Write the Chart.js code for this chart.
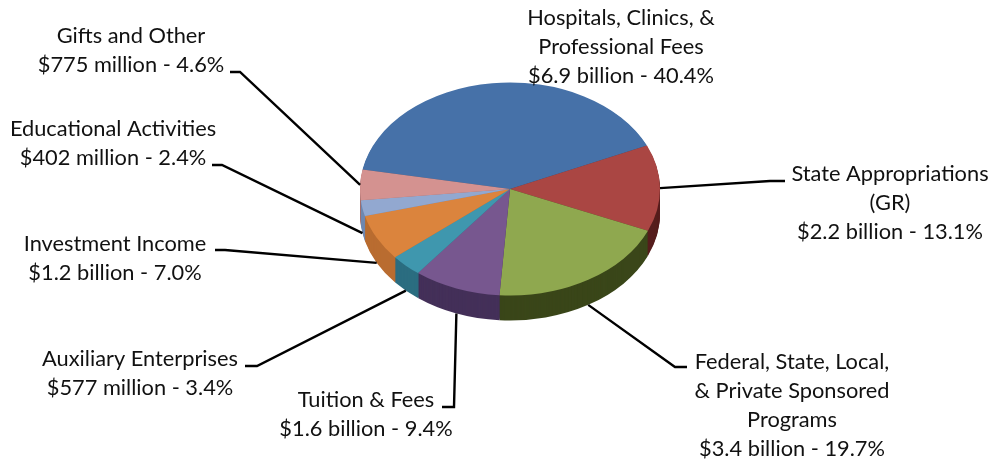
<!DOCTYPE html>
<html>
<head>
<meta charset="utf-8">
<title>Revenue sources</title>
<script src="https://cdn.jsdelivr.net/npm/chart.js@4/dist/chart.umd.min.js"></script>
<style>
    html, body { margin: 0; padding: 0; background: #fff; }
    canvas { display: block; }
</style>
</head>
<body>
<canvas id="revenueChart" width="995" height="462"></canvas>
<script>
// Data, clockwise from the big blue slice
const categoryLines = [
    ['Hospitals, Clinics, &', 'Professional Fees'],
    ['State Appropriations', '(GR)'],
    ['Federal, State, Local,', '& Private Sponsored', 'Programs'],
    ['Tuition & Fees'],
    ['Auxiliary Enterprises'],
    ['Investment Income'],
    ['Educational Activities'],
    ['Gifts and Other']
];
const amounts = ['$6.9 billion', '$2.2 billion', '$3.4 billion', '$1.6 billion', '$577 million', '$1.2 billion', '$402 million', '$775 million'];
const shares = [40.4, 13.1, 19.7, 9.4, 3.4, 7.0, 2.4, 4.6];

const topColors = ['#4671a8', '#aa4643', '#8fa84f', '#77578f', '#3f97ae', '#db843d', '#92a8d0', '#d49290'];
const sideColors = ['#2d4a70', '#561e1d', '#3a4619', '#443059', '#2b6d80', '#b96c30', '#7088b0', '#a56f6d'];

// Perspective of the disc
const squash = 0.71;
const depth = 25;

// Where each label goes: centre x, first baseline, leader elbow (null = no leader)
const labelSpots = [
    { x: 621, y: 25, elbow: null },
    { x: 890, y: 181, elbow: [[785, 181], [770, 181]] },
    { x: 792, y: 369, elbow: [[687, 367], [675, 367]] },
    { x: 366, y: 407, elbow: [[442, 407], [454, 407]] },
    { x: 140, y: 366, elbow: [[245, 366], [257, 366]] },
    { x: 115, y: 251, elbow: [[215, 250], [225, 250]] },
    { x: 113, y: 136, elbow: [[212, 165], [222, 165]] },
    { x: 131, y: 43, elbow: [[230, 72], [240, 72]] }
];

const tiltPlugin = {
    id: 'tilt',
    beforeDatasetsDraw(chart) {
        const ctx = chart.ctx;
        const arcs = chart.getDatasetMeta(0).data;
        const cy = arcs[0].y;
        // side wall: stack of darker discs below the top face
        for (let d = depth; d > 0; d--) {
            arcs.forEach(function(arc, i) {
                ctx.save();
                ctx.translate(arc.x, cy + d);
                ctx.scale(1, squash);
                ctx.beginPath();
                ctx.moveTo(0, 0);
                ctx.arc(0, 0, arc.outerRadius, arc.startAngle, arc.endAngle);
                ctx.closePath();
                ctx.fillStyle = sideColors[i];
                ctx.fill();
                ctx.restore();
            });
        }
        ctx.save();
        ctx.translate(0, cy);
        ctx.scale(1, squash);
        ctx.translate(0, -cy);
    },
    afterDatasetsDraw(chart) {
        chart.ctx.restore();
    },
    afterDraw(chart) {
        const ctx = chart.ctx;
        const arcs = chart.getDatasetMeta(0).data;

        // leaders run from the elbow to the rim at the middle of the slice
        ctx.strokeStyle = '#000';
        ctx.lineWidth = 2.4;
        ctx.lineJoin = 'miter';
        labelSpots.forEach(function(spot, i) {
            if (!spot.elbow) return;
            const arc = arcs[i];
            const mid = (arc.startAngle + arc.endAngle) / 2;
            const sinMid = Math.sin(mid);
            let rimY = arc.y + sinMid * arc.outerRadius * squash;
            if (sinMid > 0.05) rimY += depth;
            const rimX = arc.x + Math.cos(mid) * arc.outerRadius;
            ctx.beginPath();
            ctx.moveTo(spot.elbow[0][0], spot.elbow[0][1]);
            ctx.lineTo(spot.elbow[1][0], spot.elbow[1][1]);
            ctx.lineTo(rimX, rimY);
            ctx.stroke();
        });

        ctx.fillStyle = '#111';
        ctx.font = '21.8px Lato';
        ctx.textAlign = 'center';
        ctx.textBaseline = 'alphabetic';
        labelSpots.forEach(function(spot, i) {
            const lines = categoryLines[i].concat(amounts[i] + ' - ' + shares[i].toFixed(1) + '%');
            lines.forEach(function(line, n) {
                ctx.fillText(line, spot.x, spot.y + n * 29);
            });
        });
    }
};

const revenueChart = new Chart(document.getElementById('revenueChart'), {
    type: 'pie',
    data: {
        labels: categoryLines.map(function(l) { return l.join(' '); }),
        datasets: [{
            data: shares,
            backgroundColor: topColors,
            borderWidth: 0
        }]
    },
    options: {
        responsive: false,
        animation: false,
        rotation: -79.5,
        radius: 150,
        layout: { padding: { left: 25, bottom: 84 } },
        plugins: {
            legend: { display: false },
            tooltip: { enabled: false }
        }
    },
    plugins: [tiltPlugin]
});
</script>
</body>
</html>
